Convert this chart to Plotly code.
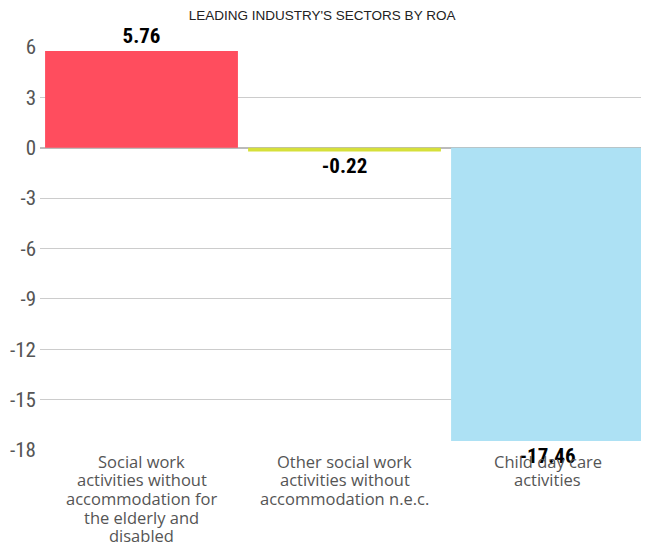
import plotly.graph_objects as go

categories = ["Social work (elderly/disabled)", "Other social work n.e.c.", "Child day care"]
category_lines = [
    ["Social work", "activities without", "accommodation for", "the elderly and", "disabled"],
    ["Other social work", "activities without", "accommodation n.e.c."],
    ["Child day care", "activities"],
]
values = [5.76, -0.22, -17.46]
labels = ["5.76", "-0.22", "-17.46"]
colors = ["#FF4D5E", "#D6E03A", "#ADE1F4"]
y_ticks = [6, 3, 0, -3, -6, -9, -12, -15, -18]
y_min, y_max = -18, 6

COND = "Roboto Condensed, Roboto, sans-serif"
BODY = "Open Sans, sans-serif"

fig = go.Figure(go.Bar(
    x=categories, y=values, marker=dict(color=colors, line=dict(width=0)),
    text=labels, textposition="outside", cliponaxis=False,
    textfont=dict(family=COND, size=21, color="#000000"),
))
fig.update_traces(texttemplate="<b>%{text}</b>")

# multi-line category labels with tight line spacing
for cat, lines in zip(categories, category_lines):
    for i, line in enumerate(lines):
        fig.add_annotation(x=cat, xref="x", y=0, yref="paper", text=line,
                           showarrow=False, xanchor="center", yanchor="middle",
                           yshift=-(11 + i * 18.7),
                           font=dict(family=BODY, size=16.5, color="#555555"))

fig.update_layout(
    width=641, height=539,
    margin=dict(l=32, r=0, t=39, b=97),
    paper_bgcolor="white", plot_bgcolor="white",
    bargap=0.05,
    showlegend=False,
    title=dict(text="LEADING INDUSTRY'S SECTORS BY ROA", xref="container", x=0.49,
               xanchor="center", y=0.987, yanchor="middle",
               font=dict(family="Liberation Sans, sans-serif", size=13.5, color="#222222")),
    font=dict(family=BODY),
    xaxis=dict(showticklabels=False, showline=False, ticks="", automargin=False,
               showgrid=False, zeroline=False),
    xaxis2=dict(overlaying="x", anchor="free",
                position=(0 - y_min) / (y_max - y_min),
                range=[-0.5, len(categories) - 0.5],
                tickvals=[i - 0.5 for i in range(len(categories))],
                ticks="outside", ticklen=4, tickcolor="#BDBDBD", tickwidth=1,
                showticklabels=False, showgrid=False, zeroline=False,
                showline=False, automargin=False),
)
fig.update_yaxes(range=[y_min, y_max], tickvals=y_ticks, ticktext=[str(v) for v in y_ticks],
                 showgrid=True, gridcolor="#CCCCCC", gridwidth=1,
                 zeroline=True, zerolinecolor="#BBBBBB", zerolinewidth=2,
                 tickfont=dict(family=COND, size=21, color="#555555"),
                 ticks="", showline=False, automargin=False, ticklabelstandoff=3)
fig.write_html("out.html")
